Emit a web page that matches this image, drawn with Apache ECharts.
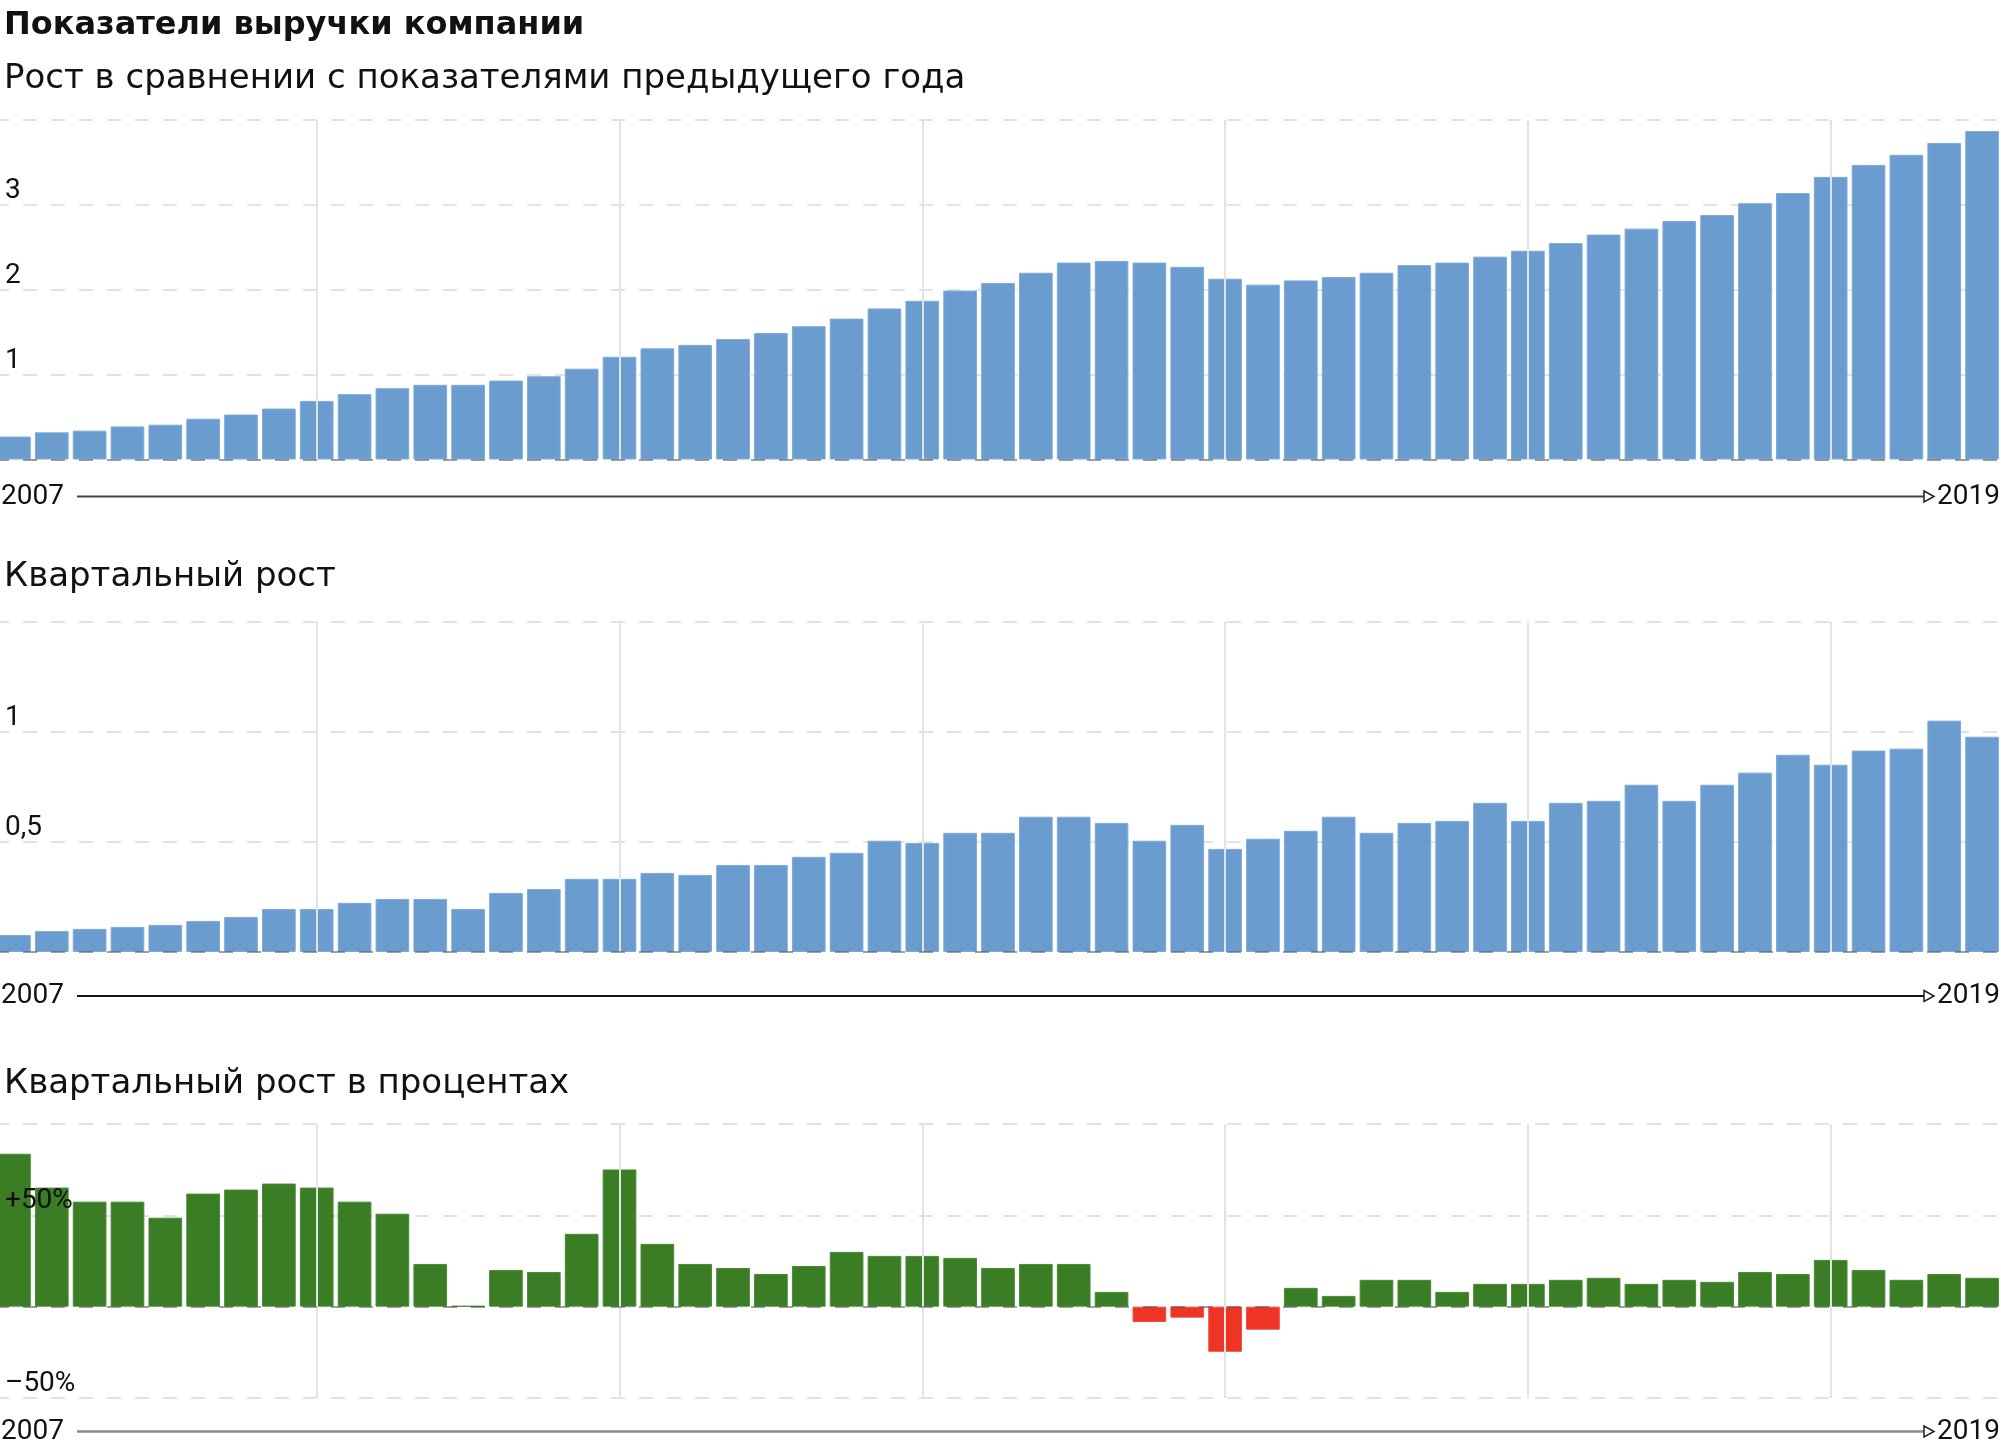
<!DOCTYPE html>
<html>
<head>
<meta charset="utf-8">
<script src="https://cdn.jsdelivr.net/npm/echarts@6/dist/echarts.min.js"></script>
<style>
html,body{margin:0;padding:0;background:#ffffff;}
#chart{width:2001px;height:1445px;}
</style>
</head>
<body>
<div id="chart"></div>
<script>
// ---------- DATA ----------
const quarters = [
  '2006 Q4',
  '2007 Q1','2007 Q2','2007 Q3','2007 Q4',
  '2008 Q1','2008 Q2','2008 Q3','2008 Q4',
  '2009 Q1','2009 Q2','2009 Q3','2009 Q4',
  '2010 Q1','2010 Q2','2010 Q3','2010 Q4',
  '2011 Q1','2011 Q2','2011 Q3','2011 Q4',
  '2012 Q1','2012 Q2','2012 Q3','2012 Q4',
  '2013 Q1','2013 Q2','2013 Q3','2013 Q4',
  '2014 Q1','2014 Q2','2014 Q3','2014 Q4',
  '2015 Q1','2015 Q2','2015 Q3','2015 Q4',
  '2016 Q1','2016 Q2','2016 Q3','2016 Q4',
  '2017 Q1','2017 Q2','2017 Q3','2017 Q4',
  '2018 Q1','2018 Q2','2018 Q3','2018 Q4',
  '2019 Q1','2019 Q2','2019 Q3','2019 Q4'
];

// Рост в сравнении с показателями предыдущего года
const yoyGrowth = [
  0.27, 0.32, 0.34, 0.39, 0.41, 0.48, 0.53, 0.60, 0.69, 0.77,
  0.84, 0.88, 0.88, 0.93, 0.98, 1.07, 1.21, 1.31, 1.35, 1.42,
  1.49, 1.57, 1.66, 1.78, 1.87, 1.99, 2.08, 2.20, 2.32, 2.34,
  2.32, 2.27, 2.13, 2.06, 2.11, 2.15, 2.20, 2.29, 2.32, 2.39,
  2.46, 2.55, 2.65, 2.72, 2.81, 2.88, 3.02, 3.14, 3.33, 3.47,
  3.59, 3.73, 3.87
];

// Квартальный рост
const quarterlyGrowth = [
  0.077, 0.095, 0.105, 0.114, 0.123, 0.141, 0.159, 0.195, 0.195, 0.223,
  0.241, 0.241, 0.195, 0.268, 0.286, 0.332, 0.332, 0.359, 0.350, 0.395,
  0.395, 0.432, 0.450, 0.505, 0.495, 0.541, 0.541, 0.614, 0.614, 0.586,
  0.505, 0.577, 0.468, 0.514, 0.550, 0.614, 0.541, 0.586, 0.595, 0.677,
  0.595, 0.677, 0.686, 0.759, 0.686, 0.759, 0.814, 0.895, 0.850, 0.914,
  0.923, 1.050, 0.977
];

// Квартальный рост в процентах
const quarterlyGrowthPct = [
  83.7, 65.2, 57.5, 57.5, 48.7, 61.9, 64.1, 67.4, 65.2, 57.5,
  50.9, 23.4, 0.4, 20.1, 19.0, 39.9, 75.1, 34.4, 23.4, 21.2,
  17.9, 22.3, 30.0, 27.8, 27.8, 26.7, 21.2, 23.4, 23.4, 8.1,
  -8.4, -6.0, -24.7, -12.6, 10.3, 5.9, 14.7, 14.7, 8.1, 12.5,
  12.5, 14.7, 15.8, 12.5, 14.7, 13.6, 19.0, 17.9, 25.6, 20.1,
  14.7, 17.9, 15.8
];

const verticalMarks = ['2008 Q4','2010 Q4','2012 Q4','2014 Q4','2016 Q4','2018 Q4'];

const tickLabels1 = {1: '1', 2: '2', 3: '3'};
const tickLabels2 = {0.5: '0,5', 1: '1'};
const tickLabels3 = {50: '+50%', '-50': '–50%'};

const yearLabels = ['2007', '2019'];

const mainTitle = 'Показатели выручки компании';
const panelTitles = [
  'Рост в сравнении с показателями предыдущего года',
  'Квартальный рост',
  'Квартальный рост в процентах'
];

// ---------- STYLE ----------
const FONT_TEXT = '"DejaVu Sans", "Noto Sans", sans-serif';
const FONT_NUM = 'Roboto, "Noto Sans", sans-serif';
const BLUE = '#6a9cd0';
const GREEN = '#3a7d24';
const RED = '#ee3424';
const GRID_COLOR = '#e3e3e3';

const grids = [
  {left: -5, right: 0, top: 120, height: 339.5, outerBoundsMode: 'none', containLabel: false},
  {left: -5, right: 0, top: 621.5, height: 330.5, outerBoundsMode: 'none', containLabel: false},
  {left: -5, right: 0, top: 1124, height: 274, outerBoundsMode: 'none', containLabel: false}
];
const yRanges = [
  {min: 0, max: 4, interval: 1, labels: tickLabels1},
  {min: 0, max: 1.5, interval: 0.5, labels: tickLabels2},
  {min: -50, max: 100, interval: 50, labels: tickLabels3}
];
const axisLineY = [496.5, 996, 1431.5];
const axisLineColor = ['#444444', '#111111', '#888888'];
const axisLineWidth = [2, 2, 2.5];

const xAxes = [], yAxes = [], series = [];
grids.forEach((g, i) => {
  xAxes.push({
    type: 'category', gridIndex: i, data: quarters,
    boundaryGap: true,
    axisLine: {show: false}, axisTick: {show: false},
    axisLabel: {show: false}, splitLine: {show: false}
  });
  // main axis (grid lines, under bars)
  yAxes.push({
    type: 'value', gridIndex: i, position: 'left',
    min: yRanges[i].min, max: yRanges[i].max, interval: yRanges[i].interval,
    axisLine: {show: false}, axisTick: {show: false}, axisLabel: {show: false},
    splitLine: {show: true, lineStyle: {color: GRID_COLOR, width: 2, type: [14, 14]}}
  });
  // label axis (text drawn above bars)
  const lbl = yRanges[i].labels;
  yAxes.push({
    type: 'value', gridIndex: i, position: 'left', z: 10,
    min: yRanges[i].min, max: yRanges[i].max, interval: yRanges[i].interval,
    axisLine: {show: false}, axisTick: {show: false}, splitLine: {show: false},
    axisLabel: {
      show: true, inside: true, margin: 10,
      showMinLabel: true, showMaxLabel: true,
      verticalAlign: 'bottom', align: 'left',
      fontFamily: FONT_NUM, fontSize: 28, color: '#111', lineHeight: 28,
      padding: [0, 0, 0, 0],
      formatter: v => (lbl[v] !== undefined ? lbl[v] : '')
    }
  });
});

const dataSets = [yoyGrowth, quarterlyGrowth, quarterlyGrowthPct];
dataSets.forEach((d, i) => {
  // vertical separators behind bars
  series.push({
    type: 'line', xAxisIndex: i, yAxisIndex: i * 2, data: [], z: 1,
    silent: true,
    markLine: {
      silent: true, symbol: 'none', animation: false,
      label: {show: false},
      lineStyle: {color: GRID_COLOR, width: 2, type: 'solid'},
      data: verticalMarks.map(q => ({xAxis: q}))
    }
  });
  series.push({
    type: 'bar', xAxisIndex: i, yAxisIndex: i * 2, z: 2,
    barCategoryGap: '11%',
    data: d.map(v => ({
      value: v,
      itemStyle: {
        color: i < 2 ? BLUE : (v < 0 ? RED : GREEN),
        borderColor: i < 2 ? '#7eaad8' : (v < 0 ? '#f04a3b' : '#4a8a36'),
        borderWidth: 1
      }
    })),
    markLine: {
      silent: true, symbol: 'none', animation: false,
      label: {show: false},
      lineStyle: {color: 'rgba(50,50,50,0.38)', width: 2, type: [14, 14]},
      data: [{yAxis: 0}]
    }
  });
});

const titles = [
  {text: mainTitle, left: 4, top: 6, padding: 0,
   textStyle: {fontFamily: FONT_TEXT, fontSize: 32, fontWeight: 'bold', color: '#111', lineHeight: 40}},
  {text: panelTitles[0], left: 4, top: 59, padding: 0,
   textStyle: {fontFamily: FONT_TEXT, fontSize: 34, fontWeight: 'normal', color: '#111', lineHeight: 40}},
  {text: panelTitles[1], left: 4, top: 557, padding: 0,
   textStyle: {fontFamily: FONT_TEXT, fontSize: 34, fontWeight: 'normal', color: '#111', lineHeight: 40}},
  {text: panelTitles[2], left: 4, top: 1064, padding: 0,
   textStyle: {fontFamily: FONT_TEXT, fontSize: 34, fontWeight: 'normal', color: '#111', lineHeight: 40}}
];

const graphics = [];
axisLineY.forEach((y, i) => {
  graphics.push({
    type: 'line', silent: true,
    shape: {x1: 77, y1: y, x2: 1924, y2: y},
    style: {stroke: axisLineColor[i], lineWidth: axisLineWidth[i]}
  });
  graphics.push({
    type: 'polygon', silent: true,
    shape: {points: [[1924, y - 5.5], [1934, y], [1924, y + 5.5]]},
    style: {fill: '#ffffff', stroke: '#222', lineWidth: 1.5}
  });
  graphics.push({
    type: 'text', silent: true, x: 1, y: y,
    style: {text: yearLabels[0], font: '28px ' + FONT_NUM, fill: '#111',
            textAlign: 'left', textVerticalAlign: 'middle'}
  });
  graphics.push({
    type: 'text', silent: true, x: 2000, y: y,
    style: {text: yearLabels[1], font: '28px ' + FONT_NUM, fill: '#111',
            textAlign: 'right', textVerticalAlign: 'middle'}
  });
});

const chart = echarts.init(document.getElementById('chart'), null, {renderer: 'canvas'});
chart.setOption({
  backgroundColor: '#ffffff',
  animation: false,
  title: titles,
  grid: grids,
  xAxis: xAxes,
  yAxis: yAxes,
  series: series,
  graphic: graphics
});
</script>
</body>
</html>
